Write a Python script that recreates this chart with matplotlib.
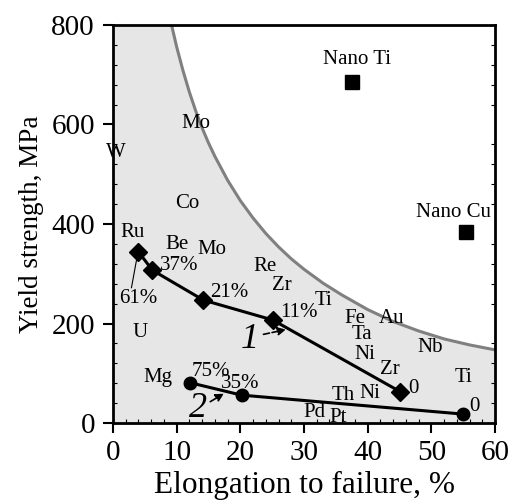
import numpy as np
import matplotlib
matplotlib.use("Agg")
import matplotlib.pyplot as plt

plt.rcParams['font.family'] = ['Liberation Serif', 'DejaVu Serif']

# boundary curve (elongation %, yield MPa)
curve_x = [9.2, 10, 11, 12, 13, 14, 15, 16, 18, 20, 22, 24, 26, 28, 30, 33, 36, 40, 44, 48, 52, 56, 60]
curve_y = [800, 756, 708, 665, 627, 593, 563, 536, 488, 447, 412, 381, 354, 330, 309, 281, 257, 228, 204, 185, 169, 157, 147]

# series 1 (diamonds)
s1_x = [4.0, 6.2, 14.2, 25.1, 45.1]
s1_y = [344, 307, 247, 207, 63]
s1_lab = ['61%', '37%', '21%', '11%', '0']

# series 2 (circles)
s2_x = [12.1, 20.2, 54.9]
s2_y = [81, 56, 18]
s2_lab = ['75%', '35%', '0']

# nano materials
nano_x = [37.5, 55.4]
nano_y = [686, 384]
nano_lab = ['Nano Ti', 'Nano Cu']

# element labels
elem_lab = ['Mo', 'W', 'Co', 'Ru', 'Be', 'Mo', 'Re', 'Zr', 'U', 'Mg', 'Ti', 'Fe', 'Au',
            'Ta', 'Ni', 'Zr', 'Nb', 'Ti', 'Th', 'Ni', 'Pd', 'Pt']
elem_x = [13.0, 0.4, 11.6, 3.0, 10.0, 15.6, 23.9, 26.6, 4.2, 7.0, 33.0, 38.0, 43.8,
          39.1, 39.6, 43.5, 49.8, 55.0, 36.1, 40.3, 31.7, 35.3]
elem_y = [603, 543, 442, 382, 358, 348, 314, 277, 181, 92, 247, 211, 211,
          177, 137, 108, 151, 92, 56, 60, 22, 12]

fig = plt.figure(figsize=(5.09, 5.0), dpi=100)
ax = fig.add_axes([0.222, 0.154, 0.7505, 0.796])

# shaded region below boundary
fx = [0] + curve_x + [60]
fy = [800] + curve_y + [0]
ax.fill(fx + [0], fy + [0], color='#e6e6e6', zorder=0.5, lw=0)
ax.plot(curve_x, curve_y, color='#808080', lw=2.2, zorder=1)

ax.plot(s1_x, s1_y, color='black', lw=2.2, marker='D', ms=9, zorder=3)
ax.plot(s2_x, s2_y, color='black', lw=2.2, marker='o', ms=9, zorder=3)
ax.plot(nano_x, nano_y, ls='none', marker='s', ms=10, color='black', zorder=3)

fs = 15
for x, y, t in zip(elem_x, elem_y, elem_lab):
    ax.text(x, y, t, fontsize=fs, ha='center', va='center', zorder=4)

# percentage labels for series 1
ax.text(3.9, 250, s1_lab[0], fontsize=fs, ha='center', va='center', zorder=4)
ax.plot([3.7, 2.9], [328, 272], color='black', lw=0.8, zorder=4)
ax.text(7.3, 317, s1_lab[1], fontsize=fs, ha='left', va='center', zorder=4)
ax.text(15.3, 262, s1_lab[2], fontsize=fs, ha='left', va='center', zorder=4)
ax.text(26.2, 223, s1_lab[3], fontsize=fs, ha='left', va='center', zorder=4)
ax.text(46.3, 70, s1_lab[4], fontsize=fs, ha='left', va='center', zorder=4)

ax.text(12.4, 104, s2_lab[0], fontsize=fs, ha='left', va='center', zorder=4)
ax.text(17.0, 79, s2_lab[1], fontsize=fs, ha='left', va='center', zorder=4)
ax.text(56.0, 33, s2_lab[2], fontsize=fs, ha='left', va='center', zorder=4)

ax.text(38.3, 730, nano_lab[0], fontsize=fs, ha='center', va='center', zorder=4)
ax.text(53.5, 424, nano_lab[1], fontsize=fs, ha='center', va='center', zorder=4)

# curve numbers with arrows
ax.text(21.5, 168, '1', fontsize=26, style='italic', ha='center', va='center', zorder=4)
ax.annotate('', xy=(27.6, 189), xytext=(23.2, 177),
            arrowprops=dict(arrowstyle='-|>', color='black', lw=1.2, ls='--', mutation_scale=12), zorder=4)
ax.text(13.4, 30, '2', fontsize=26, style='italic', ha='center', va='center', zorder=4)
ax.annotate('', xy=(17.8, 62), xytext=(14.9, 40),
            arrowprops=dict(arrowstyle='-|>', color='black', lw=1.2, ls='--', mutation_scale=12), zorder=4)

ax.set_xlim(0, 60)
ax.set_ylim(0, 800)
ax.set_xticks(np.arange(0, 61, 10))
ax.set_yticks(np.arange(0, 801, 200))
ax.set_xticks(np.arange(0, 61, 2), minor=True)
ax.set_yticks(np.arange(0, 801, 40), minor=True)
ax.tick_params(which='major', direction='out', length=7, width=1.5, labelsize=21)
ax.tick_params(axis='x', which='major', pad=5)
ax.tick_params(axis='y', which='major', pad=6)
ax.tick_params(which='minor', direction='in', length=3, width=0.8, right=True, top=False)
for sp in ax.spines.values():
    sp.set_linewidth(2)
    sp.set_zorder(5)

ax.set_xlabel('Elongation to failure, %', fontsize=22.5, labelpad=4)
ax.set_ylabel('Yield strength, MPa', fontsize=19.5, labelpad=5)

fig.savefig('out.png', dpi=100)
